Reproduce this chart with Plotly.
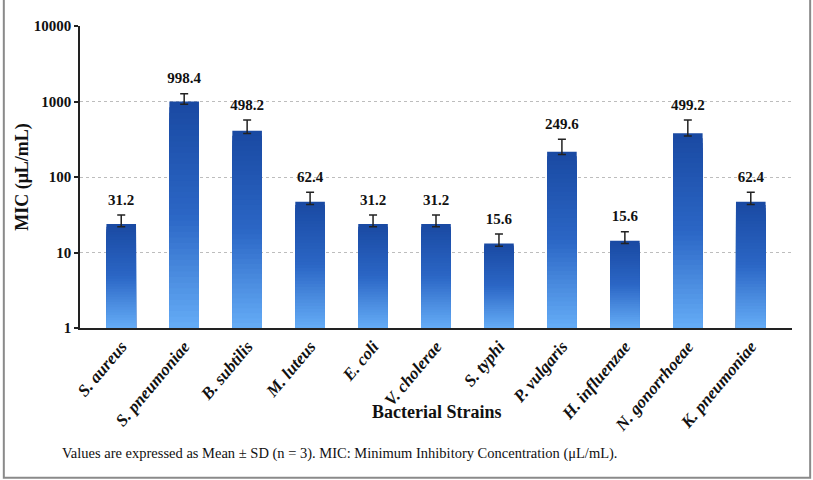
import plotly.graph_objects as go
import numpy as np

strains = ["S. aureus", "S. pneumoniae", "B. subtilis", "M. luteus", "E. coli",
           "V. cholerae", "S. typhi", "P. vulgaris", "H. influenzae",
           "N. gonorrhoeae", "K. pneumoniae"]
bar_values = [23.8, 1000, 410, 47, 23.8, 23.8, 13.2, 216, 14.3, 379, 47]
sd_values = [7.6, 270, 159, 15.7, 7.6, 7.6, 4.4, 100, 4.6, 190, 15.7]
label_values = ["31.2", "998.4", "498.2", "62.4", "31.2", "31.2", "15.6",
                "249.6", "15.6", "499.2", "62.4"]

serif = "Liberation Serif"

top_rgb = np.array([26, 74, 163])
mid_rgb = np.array([43, 102, 197])
bot_rgb = np.array([100, 171, 245])

def grad_color(t):
    # t=0 top, t=1 bottom
    if t < 0.5:
        c = top_rgb + (mid_rgb - top_rgb) * (t / 0.5)
    else:
        c = mid_rgb + (bot_rgb - mid_rgb) * ((t - 0.5) / 0.5)
    c = np.round(c).astype(int)
    return f"rgb({c[0]},{c[1]},{c[2]})"

fig = go.Figure()
vals = np.array(bar_values, dtype=float)
N = 40
for k in range(N):
    frac = (N - k) / N
    fig.add_trace(go.Bar(
        x=strains, y=vals ** frac,
        marker=dict(color=grad_color(k / (N - 1)), line=dict(width=0)),
        showlegend=False, hoverinfo="skip",
    ))

# error bars on a transparent overlay trace
fig.add_trace(go.Bar(
    x=strains, y=bar_values,
    marker=dict(color="rgba(0,0,0,0)", line=dict(width=0)),
    error_y=dict(type="data", array=sd_values,
                 arrayminus=[v * 0.08 for v in bar_values],
                 color="#222222", thickness=1.5, width=4),
    showlegend=False, hoverinfo="skip",
))

caps = [b + s for b, s in zip(bar_values, sd_values)]
fig.add_trace(go.Scatter(
    x=strains, y=caps, mode="markers+text", text=label_values,
    marker=dict(size=9, color="rgba(0,0,0,0)"),
    textposition="top center",
    textfont=dict(family=serif, size=15, color="#111111", weight="bold"),
    showlegend=False, hoverinfo="skip",
))

fig.update_layout(
    width=813, height=480,
    margin=dict(l=80, r=21, t=26, b=152, autoexpand=False),
    paper_bgcolor="white", plot_bgcolor="white",
    barmode="overlay", bargap=0.53,
    font=dict(family=serif, color="#111111"),
    xaxis=dict(
        showline=True, linecolor="#222222", linewidth=1.5,
        tickangle=-50, ticks="", automargin=False,
        tickfont=dict(family=serif, size=17, style="italic", weight="bold", color="#111111"),
        showgrid=False,
    ),
    yaxis=dict(
        type="log", range=[0, 4], automargin=False,
        tickvals=[1, 10, 100, 1000, 10000],
        ticktext=["1", "10", "100", "1000", "10000"],
        showline=True, linecolor="#222222", linewidth=1.5,
        ticks="outside", ticklen=4, tickcolor="#222222", tickwidth=1.5,
        tickfont=dict(family=serif, size=15, weight="bold", color="#111111"),
        showgrid=True, gridcolor="#bdbdbd", griddash="dot", gridwidth=1,
        zeroline=False,
        title=dict(text="MIC (μL/mL)", standoff=0,
                   font=dict(family=serif, size=18, weight="bold", color="#111111")),
    ),
    shapes=[dict(type="rect", xref="paper", yref="paper",
                 x0=-0.107, x1=1.0255, y0=-0.496, y1=1.3,
                 line=dict(color="#8a8a8a", width=2), layer="below")],
    annotations=[
        dict(text="<b>Bacterial Strains</b>", xref="paper", yref="paper",
             x=0.5, y=-0.278, xanchor="center", yanchor="middle", showarrow=False,
             font=dict(family=serif, size=18, color="#111111")),
        dict(text="Values are expressed as Mean ± SD (n = 3). MIC: Minimum Inhibitory Concentration (μL/mL).",
             xref="paper", yref="paper", x=-0.028, y=-0.414, xanchor="left", yanchor="middle",
             showarrow=False, font=dict(family=serif, size=14.5, color="#111111")),
    ],
)

fig.write_html("out.html", config={"displayModeBar": False},
               post_script="document.body.style.margin='0';")
